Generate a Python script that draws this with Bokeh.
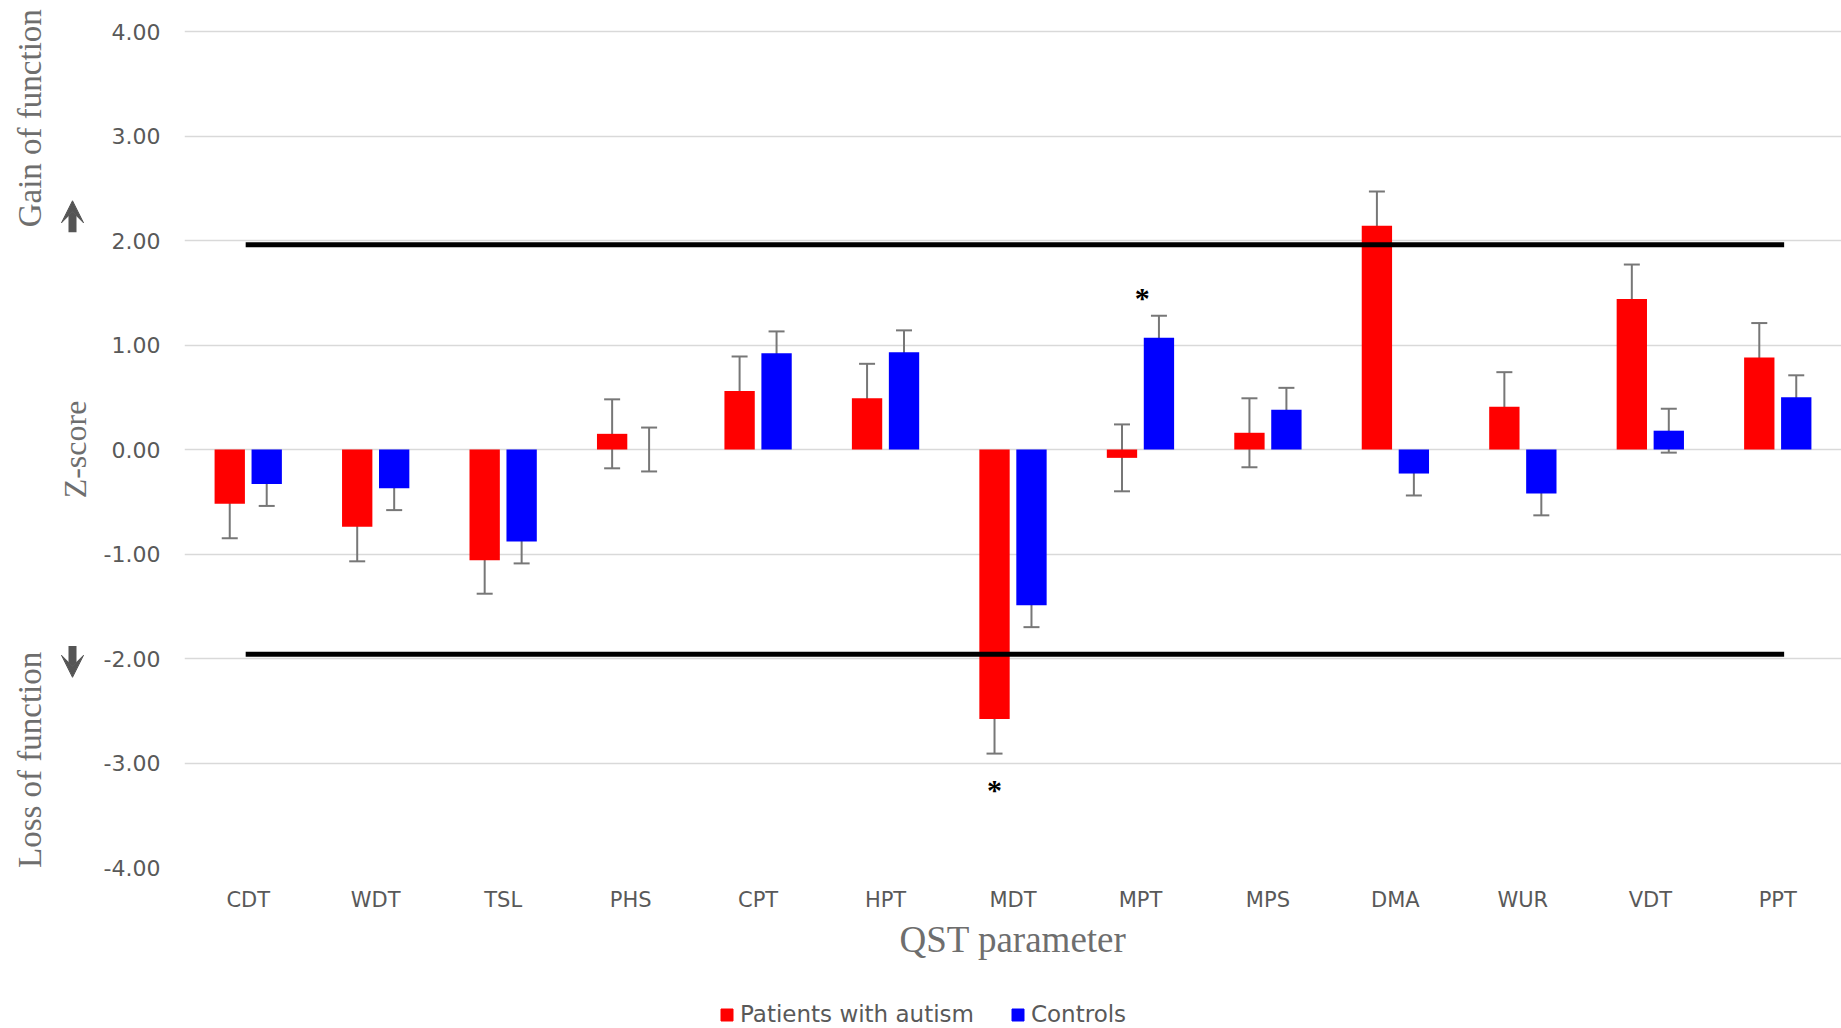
import numpy as np
from bokeh.plotting import figure
from bokeh.layouts import row, column
from bokeh.models import (ColumnDataSource, Whisker, TeeHead, Legend, LegendItem,
                          Arrow, VeeHead, FixedTicker, NumeralTickFormatter, Range1d)
from bokeh.embed import file_html
from bokeh.resources import INLINE

categories = ["CDT", "WDT", "TSL", "PHS", "CPT", "HPT", "MDT", "MPT", "MPS", "DMA", "WUR", "VDT", "PPT"]
patients = [-0.52, -0.74, -1.06, 0.15, 0.56, 0.49, -2.58, -0.08, 0.16, 2.14, 0.41, 1.44, 0.88]
patients_err = [0.33, 0.33, 0.32, 0.33, 0.33, 0.33, 0.33, 0.32, 0.33, 0.33, 0.33, 0.33, 0.33]
controls = [-0.33, -0.37, -0.88, 0.00, 0.92, 0.93, -1.49, 1.07, 0.38, -0.23, -0.42, 0.18, 0.50]
controls_err = [0.21, 0.21, 0.21, 0.21, 0.21, 0.21, 0.21, 0.21, 0.21, 0.21, 0.21, 0.21, 0.21]
series_names = ["Patients with autism", "Controls"]
y_ticks = [-4, -3, -2, -1, 0, 1, 2, 3, 4]
threshold = 1.96
significant = ["MDT", "MPT"]

RED = "#FF0000"
BLUE = "#0000FF"
GRAY_TXT = "#595959"
SERIF_TXT = "#6E6E6E"
SANS = "DejaVu Sans"
SERIF = "Liberation Serif"

W = 1841
LEG_H = 40
H = 1028 - LEG_H
FRAME_BOTTOM = 867          # pixel row of z = -4
PX_PER_UNIT = 104.5
Y_TOP = -4 + FRAME_BOTTOM / PX_PER_UNIT   # frame starts at the top edge of the canvas
BOTTOM = H - FRAME_BOTTOM
LEFT_W = 100

n = len(categories)
xc = np.arange(n) + 0.5
off = 0.145
bw = 0.238

pat = np.array(patients)
pe = np.array(patients_err)
con = np.array(controls)
ce = np.array(controls_err)

src_p = ColumnDataSource(dict(x=xc - off, top=pat, upper=pat + pe, lower=pat - pe))
src_c = ColumnDataSource(dict(x=xc + off, top=con, upper=con + ce, lower=con - ce))

# ---------- main chart ----------
p = figure(width=W - LEFT_W, height=H, x_range=Range1d(0, n), y_range=Range1d(-4, Y_TOP),
           output_backend="svg", toolbar_location=None,
           min_border_left=60, min_border_right=0, min_border_top=0, min_border_bottom=BOTTOM)
p.outline_line_color = None
p.xgrid.grid_line_color = None
p.ygrid.grid_line_color = "#D9D9D9"
p.ygrid.grid_line_width = 1.3
p.ygrid.ticker = FixedTicker(ticks=y_ticks)

p.yaxis.ticker = FixedTicker(ticks=y_ticks)
p.yaxis.formatter = NumeralTickFormatter(format="0.00")
p.yaxis.axis_line_color = None
p.yaxis.major_tick_line_color = None
p.yaxis.minor_tick_line_color = None
p.yaxis.major_label_text_font = SANS
p.yaxis.major_label_text_font_size = "22px"
p.yaxis.major_label_text_color = GRAY_TXT
p.yaxis.major_label_standoff = 18

p.xaxis.ticker = FixedTicker(ticks=list(xc))
p.xaxis.major_label_overrides = {float(x): c for x, c in zip(xc, categories)}
p.xaxis.axis_line_color = None
p.xaxis.major_tick_line_color = None
p.xaxis.minor_tick_line_color = None
p.xaxis.major_label_text_font = SANS
p.xaxis.major_label_text_font_size = "21px"
p.xaxis.major_label_text_color = GRAY_TXT
p.xaxis.major_label_standoff = 14
p.xaxis.axis_label = "QST parameter"
p.xaxis.axis_label_text_font = SERIF
p.xaxis.axis_label_text_font_style = "normal"
p.xaxis.axis_label_text_font_size = "37px"
p.xaxis.axis_label_text_color = SERIF_TXT
p.xaxis.axis_label_standoff = 4

p.vbar(x="x", top="top", bottom=0, width=bw, source=src_p, fill_color=RED, line_color=None)
p.vbar(x="x", top="top", bottom=0, width=bw, source=src_c, fill_color=BLUE, line_color=None)

for src in (src_p, src_c):
    p.add_layout(Whisker(source=src, base="x", upper="upper", lower="lower", dimension="height",
                         line_color="#777777", line_width=2,
                         upper_head=TeeHead(size=16, line_color="#777777", line_width=2),
                         lower_head=TeeHead(size=16, line_color="#777777", line_width=2)))

# significance thresholds (+/-1.96)
p.segment(x0=[0.48, 0.48], x1=[12.55, 12.55], y0=[threshold, -threshold], y1=[threshold, -threshold],
          line_color="black", line_width=5)

# asterisks
i_mdt = categories.index(significant[0])
i_mpt = categories.index(significant[1])
p.text(x=[xc[i_mdt] - off, xc[i_mpt] + 0.015],
       y=[patients[i_mdt] - patients_err[i_mdt] - 0.34, controls[i_mpt] + controls_err[i_mpt] + 0.17],
       text=["*", "*"], text_align="center", text_baseline="middle",
       text_font=SANS, text_font_size="30px", text_color="black", text_font_style="bold")

# ---------- left strip with side labels ----------
s = figure(width=LEFT_W, height=H, x_range=Range1d(0, LEFT_W), y_range=Range1d(-4, Y_TOP),
           output_backend="svg", toolbar_location=None,
           min_border_left=0, min_border_right=0, min_border_top=0, min_border_bottom=BOTTOM)
s.axis.visible = False
s.grid.visible = False
s.outline_line_color = None

s.text(x=[29, 29], y=[3.17, -2.97], text=["Gain of function", "Loss of function"], angle=np.pi / 2,
       text_align="center", text_baseline="middle", text_font=SERIF, text_font_size="33px",
       text_color=SERIF_TXT)
s.text(x=[74], y=[0], text=["Z-score"], angle=np.pi / 2, text_align="center", text_baseline="middle",
       text_font=SERIF, text_font_size="32px", text_color=SERIF_TXT)
s.add_layout(Arrow(x_start=72, y_start=2.08, x_end=72, y_end=2.38, line_color="#555555", line_width=8,
                   end=VeeHead(size=22, fill_color="#555555", line_color="#555555", line_width=1)))
s.add_layout(Arrow(x_start=72, y_start=-1.88, x_end=72, y_end=-2.18, line_color="#555555", line_width=8,
                   end=VeeHead(size=22, fill_color="#555555", line_color="#555555", line_width=1)))

# ---------- legend strip ----------
lg = figure(width=W, height=LEG_H, x_range=Range1d(0, W), y_range=Range1d(0, LEG_H),
            output_backend="svg", toolbar_location=None,
            min_border_left=0, min_border_right=0, min_border_top=0, min_border_bottom=0)
lg.axis.visible = False
lg.grid.visible = False
lg.outline_line_color = None
lr_p = lg.vbar(x=[-100], top=[-100], width=1, fill_color=RED, line_color=RED)
lr_c = lg.vbar(x=[-100], top=[-100], width=1, fill_color=BLUE, line_color=BLUE)
legend = Legend(items=[LegendItem(label=series_names[0], renderers=[lr_p]),
                       LegendItem(label=series_names[1], renderers=[lr_c])],
                orientation="horizontal", location=(719, 1),
                border_line_color=None, background_fill_alpha=0,
                label_text_font=SANS, label_text_font_size="23px",
                label_text_color=GRAY_TXT, glyph_width=15, glyph_height=15,
                spacing=36, label_standoff=6, padding=2, margin=0)
lg.add_layout(legend)

layout = column(row(s, p, spacing=0), lg, spacing=0)
open("out.html", "w").write(file_html(layout, INLINE))
